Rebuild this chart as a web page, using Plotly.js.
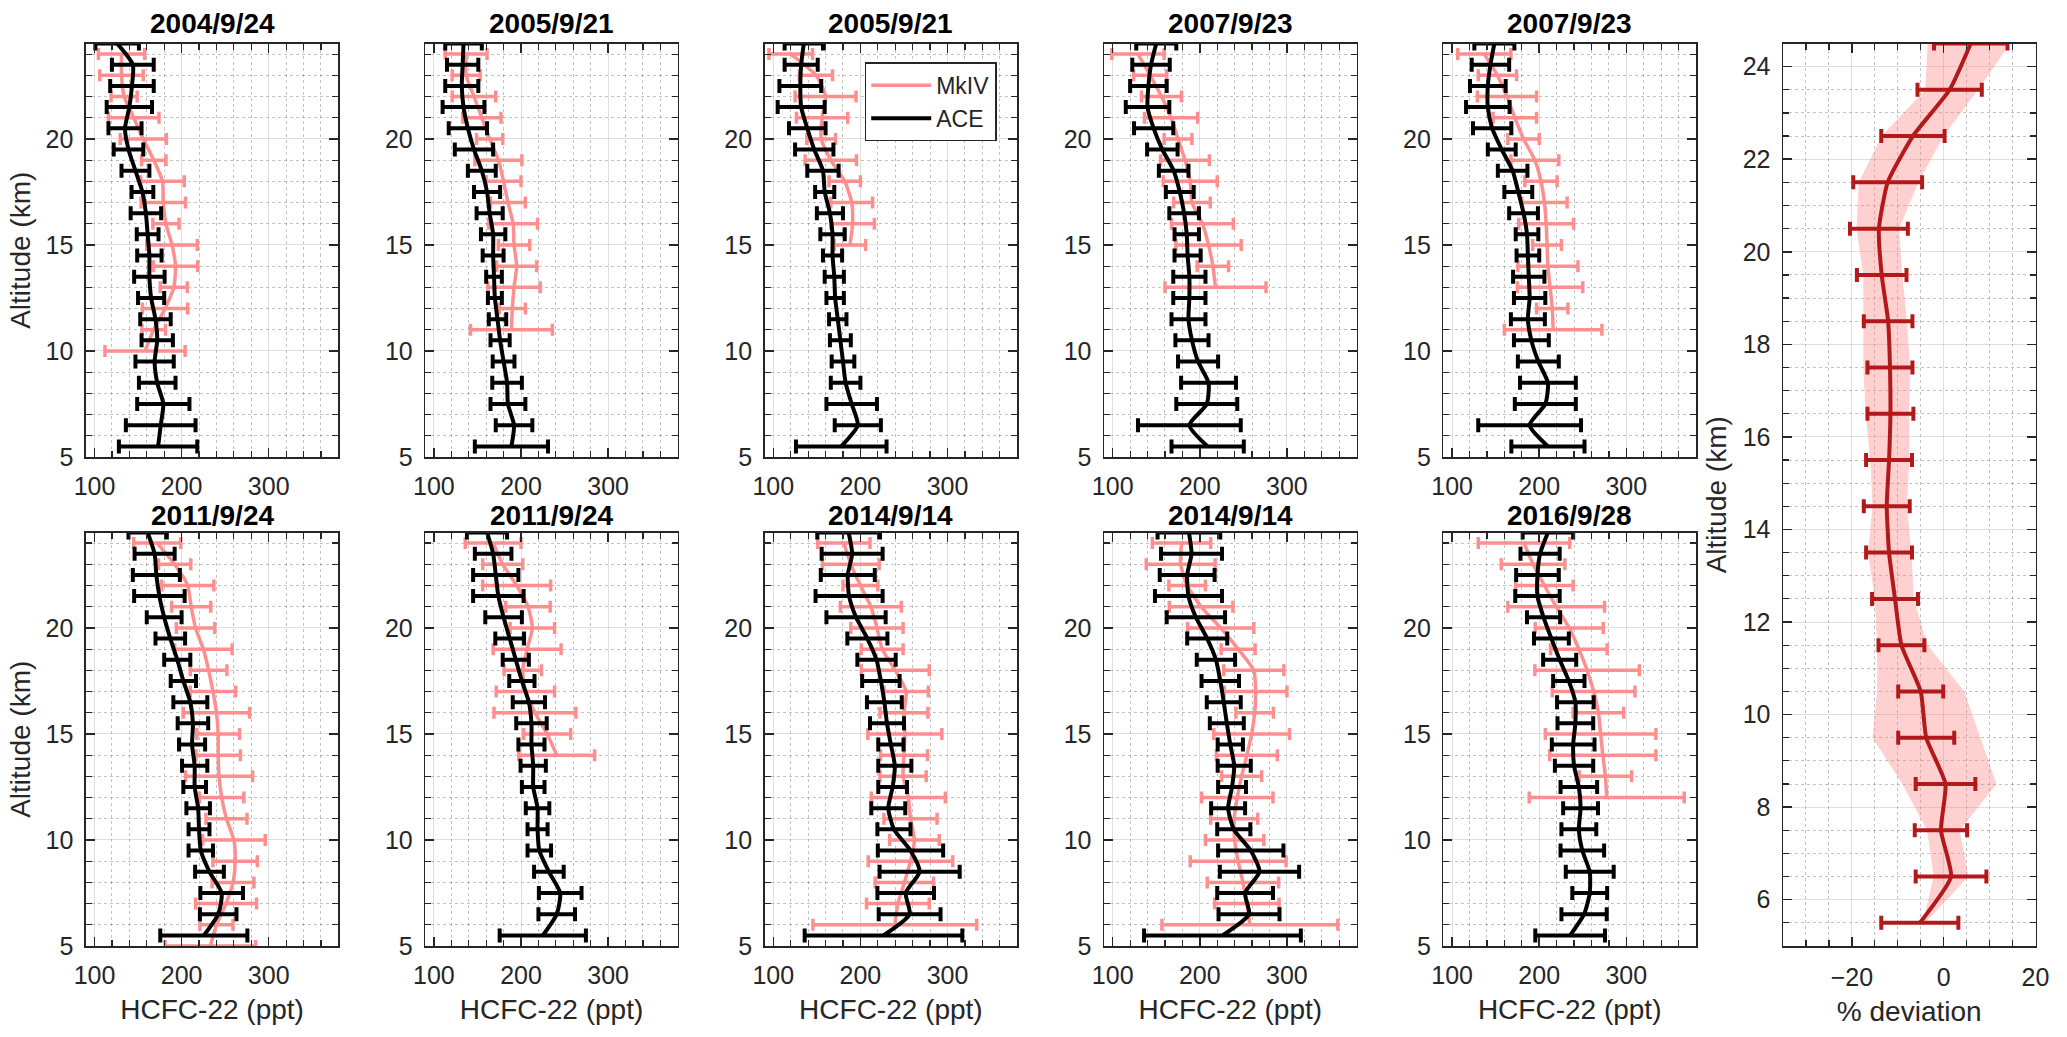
<!DOCTYPE html>
<html>
<head>
<meta charset="utf-8">
<script src="https://cdn.plot.ly/plotly-3.0.1.min.js"></script>
<style>
  html, body { margin: 0; padding: 0; background: #fff; }
  #chart { width: 2067px; height: 1037px; }
</style>
</head>
<body>
<div id="chart"></div>
<script>
// altitude grids (km)
var altACE = [24.5, 23.5, 22.5, 21.5, 20.5, 19.5, 18.5, 17.5, 16.5, 15.5, 14.5, 13.5, 12.5, 11.5, 10.5, 9.5, 8.5, 7.5, 6.5, 5.5];
var altMk = [24, 23, 22, 21, 20, 19, 18, 17, 16, 15, 14, 13, 12, 11, 10, 9, 8, 7, 6, 5];

var titles = ['2004/9/24', '2005/9/21', '2005/9/21', '2007/9/23', '2007/9/23',
              '2011/9/24', '2011/9/24', '2014/9/14', '2014/9/14', '2016/9/28'];

// HCFC-22 (ppt), ACE profiles
var ace1 = [126, 144, 143, 140, 135, 139, 147, 155, 159, 161, 163, 163, 165, 170, 172, 169, 172, 179, 176, 173];
var ace1Err = [25, 24, 25, 26, 19, 17, 16, 12.5, 17.5, 12.5, 14, 17.5, 15, 17.5, 18, 22, 21, 30, 40, 45];
var ace2 = [134, 133, 132, 134, 139, 146, 155, 161, 164, 168, 168, 169, 170, 173, 176, 180, 184, 185, 192, 189];
var ace2Err = [21, 18, 19, 24, 22, 22, 16, 15, 15, 14, 12, 9, 8, 10, 11, 12.5, 17, 20, 21, 42];
var ace3 = [135, 132, 131, 132, 139, 147, 157, 159, 165, 168, 168, 170, 171, 174, 177, 180, 183, 190, 197, 178];
var ace3Err = [22, 19, 24, 27, 21, 22, 18, 11, 15, 14, 11, 11, 10, 10, 12, 13, 17, 29, 26.5, 52];
var ace4 = [150, 144, 141, 140, 147, 157, 170, 177, 182, 185, 186, 188, 188, 187, 191, 198, 210, 208, 188, 209];
var ace4Err = [23, 21.5, 21, 25, 22.5, 17.5, 17, 16, 17, 14, 15, 18.5, 18.5, 19.5, 19, 23, 31.5, 35, 59, 41.5];
var ace5 = [148.5, 144, 141, 141, 146, 157, 169.5, 176, 182, 186, 187, 188, 189, 187, 191, 199, 210, 207, 189, 210];
var ace5Err = [23, 21.5, 20.5, 25, 22, 16, 17, 16, 16.5, 13, 13, 18, 18, 19.5, 20, 23.5, 32, 35, 59, 42];
var ace6 = [161, 169, 171, 174.5, 180, 187, 195, 202, 210, 213, 212, 215, 215, 219, 220, 222, 232, 246, 242, 225.5];
var ace6Err = [22, 23, 27, 29, 20, 17, 15, 14.5, 19.5, 17.5, 15, 14.5, 13, 13.5, 12, 14, 16.5, 24.5, 21, 50];
var ace7 = [161, 168, 171, 174, 180, 187, 194, 201, 209, 212, 212, 214, 214, 219, 219, 221, 232, 245, 241, 225];
var ace7Err = [23, 21, 26, 29, 21, 16.5, 15, 14.5, 18.5, 17.5, 15, 14.5, 13, 13.5, 11.5, 13.5, 17, 24.5, 21, 49.5];
var ace8 = [186.5, 190.5, 185.5, 187, 195, 208, 218.5, 223.5, 227.5, 230.5, 235, 239.5, 237, 232, 238.5, 257.5, 268, 252, 256.5, 226.5];
var ace8Err = [36, 35, 31, 38.5, 34, 23, 22, 21.5, 20, 19.5, 14.5, 19, 16.5, 19.5, 19, 37.5, 46, 32.5, 35.5, 90.5];
var ace9 = [187.5, 190.5, 185.5, 187, 195.5, 208.5, 218.5, 223.5, 227.5, 231, 235, 239.5, 237, 232.5, 239, 258.5, 268.5, 252, 256.5, 226];
var ace9Err = [36, 35, 31.5, 38.5, 33.5, 23, 22, 21.5, 19.5, 19.5, 14.5, 19, 16, 19.5, 19, 37.5, 45.5, 32, 35, 90];
var ace10 = [210, 201, 198, 198, 205, 214, 223.5, 234, 241.5, 241.5, 239, 240, 245.5, 247.5, 245.5, 249.5, 258, 258, 251.5, 235.5];
var ace10Err = [29, 22.5, 24.5, 25.5, 19, 20, 19, 18, 21, 20.5, 24.5, 22, 21, 20, 20, 25, 27.5, 20, 26, 40];

// HCFC-22 (ppt), MkIV profiles (from 24 km downwards)
var mk1 = [131, 131, 134, 145, 156, 168, 178, 179, 182, 189, 193, 191, 181, 168, 158];
var mk1Err = [26.5, 25, 15, 29, 26.5, 14, 25, 25.5, 15, 29, 25.5, 15.5, 26, 13.5, 46];
var mk2 = [137, 137, 146, 155, 164, 174, 180, 185, 191, 192, 195, 192, 190, 189];
var mk2Err = [24, 16, 25, 22, 15, 27, 20, 20, 28, 18, 23, 30, 15, 47];
var mk3 = [120, 149, 160, 156, 155, 166, 182, 190, 191, 188];
var mk3Err = [25, 19, 35, 29.5, 16.5, 29.5, 18, 24, 25, 18];
var mk4 = [129, 143, 156, 167, 175, 183, 189, 191, 203, 210, 215, 218];
var mk4Err = [30, 19, 23, 30.5, 16, 28, 31, 21, 35.5, 37.5, 18, 58];
var mk5 = [137, 152, 163, 172, 182, 195, 202, 206, 208, 209, 210, 212.5, 215, 216];
var mk5Err = [30.5, 22, 34, 25, 18, 27.5, 18.5, 26, 31.5, 16.5, 34.5, 37.5, 18, 56];
var mk6 = [172, 192, 207, 211, 216, 225, 231, 236, 240, 242, 242, 243, 246, 251.5, 260, 261.5, 259, 251, 240, 233];
var mk6Err = [27, 18.5, 30, 22.5, 22, 33, 21, 26, 38, 24.5, 25.5, 38.5, 25.5, 23.5, 36, 25.5, 24, 35, 19, 52];
var mk7 = [168, 179, 195, 208, 213, 207, 202, 205, 216, 230, 241];
var mk7Err = [32, 23, 39, 25.5, 25.5, 39, 21.5, 33.5, 47, 27, 43.5];
var mk8 = [181, 189, 200, 212, 219, 225, 240, 252.5, 250, 251, 250, 249, 255, 257.5, 262, 257.5, 250.5, 243, 239.5];
var mk8Err = [30, 32.5, 20, 35, 30, 24, 39, 25.5, 27.5, 42.5, 27, 26.5, 42.5, 30.5, 28.5, 48.5, 33.5, 36, 94];
var mk9 = [179, 178, 185.5, 201.5, 224, 244, 262, 264, 263, 259.5, 254, 248, 243, 239.5, 240, 244, 249.5, 254, 257.5];
var mk9Err = [33.5, 39.5, 21, 36.5, 38, 19.5, 34.5, 36, 21.5, 43.5, 35, 23, 41, 27, 33.5, 55, 41, 37, 101];
var mk10 = [182.5, 193, 206, 219.5, 234.5, 245.5, 255, 262.5, 268, 270.5, 273, 276, 277.5];
var mk10Err = [52.5, 36.5, 33, 55.5, 39, 32.5, 60, 47.5, 29, 63.5, 61, 30, 89];

// mean % deviation, its error and spread band
var dev = [5.9, 1.3, -6.7, -12.2, -14.1, -13.5, -12.1, -11.7, -11.6, -11.9, -12.4, -11.9, -10.6, -9.2, -5.0, -3.8, 0.4, -0.6, 1.6, -5.2];
var devErr = [8, 7, 6.9, 7.5, 6.3, 5.4, 5.3, 4.9, 5, 5, 5, 5, 5, 5, 4.9, 6.1, 6.5, 5.7, 7.7, 8.4];
var bandLo = [-3.5, -4, -13.5, -18.5, -19, -17.5, -17.5, -17.5, -17, -16, -15.5, -16.5, -15, -14.5, -14.5, -15.5, -9, -3.6, -2.2, -4.5];
var bandHi = [14.5, 7.5, 0, -5.5, -9.7, -9, -8, -7.3, -7.5, -7.5, -8, -7, -6.5, -3.5, 4.5, 8, 11.5, 3.5, 5.4, -4];

var aceAll = [ace1, ace2, ace3, ace4, ace5, ace6, ace7, ace8, ace9, ace10];
var aceErrAll = [ace1Err, ace2Err, ace3Err, ace4Err, ace5Err, ace6Err, ace7Err, ace8Err, ace9Err, ace10Err];
var mkAll = [mk1, mk2, mk3, mk4, mk5, mk6, mk7, mk8, mk9, mk10];
var mkErrAll = [mk1Err, mk2Err, mk3Err, mk4Err, mk5Err, mk6Err, mk7Err, mk8Err, mk9Err, mk10Err];

var W = 2067, H = 1037;
var colL = [85.8, 425.2, 764.6, 1104.0, 1443.4], PW = 252.6;
var rowY = [[43.5, 457], [532.5, 946]];
var FONT = 'Liberation Sans, Arial, sans-serif';
var INK = '#262626';
var PINK = '#FF8F8F';
var RED = '#B3191B';

function axBase() {
  return {
    showline: true, linecolor: INK, linewidth: 1.5, mirror: 'ticks',
    ticks: 'inside', ticklen: 9, tickwidth: 1.5, tickcolor: INK,
    showgrid: true, gridcolor: 'rgba(38,38,38,0.14)', gridwidth: 1,
    zeroline: false, fixedrange: true,
    tickfont: {family: FONT, size: 25, color: INK},
    minor: {ticks: 'inside', ticklen: 6, tickwidth: 1.2, tickcolor: INK,
            showgrid: true, gridcolor: 'rgba(38,38,38,0.28)', griddash: 'dot', gridwidth: 1}
  };
}

var data = [];
var layout = {
  width: W, height: H,
  margin: {l: 0, r: 0, t: 0, b: 0},
  paper_bgcolor: '#fff', plot_bgcolor: '#fff',
  font: {family: FONT, color: INK},
  showlegend: true,
  legend: {
    x: 864.7 / W, y: 1 - 62.3 / H, xanchor: 'left', yanchor: 'top',
    bgcolor: '#fff', bordercolor: INK, borderwidth: 1.5,
    font: {family: FONT, size: 23, color: INK},
    itemwidth: 60, tracegroupgap: 0
  },
  annotations: []
};

for (var i = 0; i < 10; i++) {
  var n = i + 1;
  var col = i % 5, row = Math.floor(i / 5);
  var xa = 'xaxis' + n, ya = 'yaxis' + n;

  var mkY = altMk.slice(0, mkAll[i].length);
  data.push({
    type: 'scatter', mode: 'lines', name: 'MkIV',
    x: mkAll[i], y: mkY, xaxis: 'x' + n, yaxis: 'y' + n,
    line: {color: PINK, width: 3.5, shape: 'spline', smoothing: 0.6},
    error_x: {type: 'data', array: mkErrAll[i], color: PINK, thickness: 3.5, width: 6},
    showlegend: i === 2, hoverinfo: 'skip'
  });
  data.push({
    type: 'scatter', mode: 'lines', name: 'ACE',
    x: aceAll[i], y: altACE, xaxis: 'x' + n, yaxis: 'y' + n,
    line: {color: '#000', width: 4, shape: 'spline', smoothing: 0.6},
    error_x: {type: 'data', array: aceErrAll[i], color: '#000', thickness: 4, width: 7},
    showlegend: i === 2, hoverinfo: 'skip'
  });

  var x = axBase();
  x.domain = [colL[col] / W, (colL[col] + PW) / W];
  x.anchor = 'y' + n;
  x.range = [90, 380];
  x.tick0 = 100; x.dtick = 100;
  x.minor.tick0 = 100; x.minor.dtick = 20;
  x.ticklabelstandoff = 6;
  if (row === 1) {
    x.title = {text: 'HCFC-22 (ppt)', font: {family: FONT, size: 28, color: INK}, standoff: 12};
  }
  layout[xa] = x;

  var y = axBase();
  y.domain = [1 - rowY[row][1] / H, 1 - rowY[row][0] / H];
  y.anchor = 'x' + n;
  y.range = [5, 24.5];
  y.tick0 = 5; y.dtick = 5;
  y.minor.tick0 = 5; y.minor.dtick = 1;
  y.ticklabelstandoff = 6;
  if (col === 0) {
    y.title = {text: 'Altitude (km)', font: {family: FONT, size: 28, color: INK}, standoff: 6};
  }
  layout[ya] = y;

  layout.annotations.push({
    xref: 'paper', yref: 'paper',
    x: (colL[col] + PW / 2) / W, y: 1 - (row === 0 ? 23 : 515) / H,
    xanchor: 'center', yanchor: 'middle', showarrow: false,
    text: '<b>' + titles[i] + '</b>',
    font: {family: FONT, size: 28, color: '#000'}
  });
}

// right panel: spread band + mean deviation
var bandX = bandLo.concat(bandHi.slice().reverse());
var bandY = altACE.concat(altACE.slice().reverse());
data.push({
  type: 'scatter', mode: 'lines', x: bandX, y: bandY,
  xaxis: 'x11', yaxis: 'y11', fill: 'toself',
  fillcolor: 'rgba(255,120,120,0.35)', line: {width: 0},
  showlegend: false, hoverinfo: 'skip'
});
data.push({
  type: 'scatter', mode: 'lines', x: dev, y: altACE,
  xaxis: 'x11', yaxis: 'y11',
  line: {color: RED, width: 4, shape: 'spline', smoothing: 0.5},
  error_x: {type: 'data', array: devErr, color: RED, thickness: 4, width: 7},
  showlegend: false, hoverinfo: 'skip'
});

var x11 = axBase();
x11.domain = [1783 / W, 2035.5 / W];
x11.anchor = 'y11';
x11.range = [-35, 20];
x11.tick0 = -20; x11.dtick = 20;
x11.minor.tick0 = -20; x11.minor.dtick = 5;
x11.ticklabelstandoff = 8;
x11.title = {text: '% deviation', font: {family: FONT, size: 28, color: INK}, standoff: 12};
layout.xaxis11 = x11;

var y11 = axBase();
y11.domain = [1 - 946 / H, 1 - 43.5 / H];
y11.anchor = 'x11';
y11.range = [5, 24.5];
y11.tick0 = 6; y11.dtick = 2;
y11.minor.tick0 = 6; y11.minor.dtick = 0.5;
y11.ticklabelstandoff = 6;
y11.title = {text: 'Altitude (km)', font: {family: FONT, size: 28, color: INK}, standoff: 8};
layout.yaxis11 = y11;

var config = {displayModeBar: false, responsive: false, staticPlot: true};
Plotly.newPlot('chart', data, layout, config);
</script>
</body>
</html>
